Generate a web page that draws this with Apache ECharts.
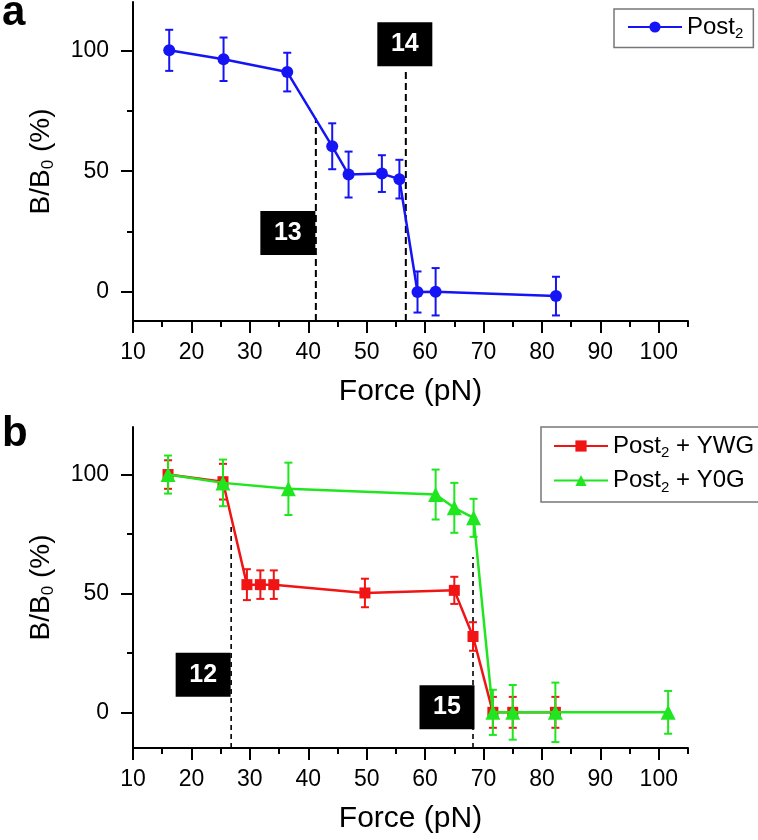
<!DOCTYPE html>
<html><head><meta charset="utf-8">
<script src="https://cdn.jsdelivr.net/npm/echarts@6/dist/echarts.min.js"></script>
<style>html,body{margin:0;padding:0;background:#fff}#c{width:758px;height:840px}</style>
</head><body><div id="c"></div>
<script>
// ---- Panel a data ----
const aForce = [16.2, 25.5, 36.4, 44.1, 46.9, 52.6, 55.6, 58.7, 61.8, 82.4];
const aRatio = [100, 96.3, 91.0, 60.3, 48.6, 49.0, 46.7, 0, 0.1, -1.7];
const aErr   = [8.5, 9, 8, 9.5, 9.5, 7.6, 8, 8.5, 9.8, 8];
// ---- Panel b data ----
const ywgForce = [16.0, 25.4, 29.5, 31.8, 34.1, 49.7, 65.0, 68.2, 71.6, 75.0, 82.3];
const ywgRatio = [100, 97, 53.7, 53.7, 53.7, 50.2, 51.3, 31.9, 0, 0, 0];
const ywgErr   = [6, 7.5, 6.5, 6, 6, 6, 5.7, 6, 6.5, 6.5, 6.5];
const y0gForce = [16.0, 25.4, 36.6, 61.8, 65.0, 68.3, 71.6, 75.0, 82.3, 101.6];
const y0gRatio = [100, 96.5, 94, 91.6, 86, 81.8, 0, 0, 0, 0];
const y0gErr   = [8, 9.8, 11, 10.5, 10.5, 8, 9.5, 11.5, 12.5, 9];
// ---- Transition markers ----
const aMarkLabels = ['13', '14'];
const aMarkForce  = [41.3, 56.7];
const aMarkTop    = [71.9, 92.4];
const bMarkLabels = ['12', '15'];
const bMarkForce  = [26.8, 68.2];
const bMarkTop    = [78.6, 65.3];
// ---- Ticks ----
const xMajorTicks = [10, 20, 30, 40, 50, 60, 70, 80, 90, 100];
const xMinorTicks = [15, 25, 35, 45, 55, 65, 75, 85, 95, 105];
const yMajorTicks = [0, 50, 100];
const yMinorTicks = [25, 75];
const seriesNames = ['Post2', 'Post2 + YWG', 'Post2 + Y0G'];

// layout/style (not data)
const annA = [{boxY: 24.4, off: -28}, {boxY: 102.5, off: -1}];
const annB = [{boxY: 15.8, off: -28}, {boxY: 2.1, off: -26}];
const FONT = 'Liberation Sans, Arial, sans-serif';
const BLUE = '#1414f5', RED = '#f01414', GREEN = '#20e620';
const TICK_FONT = {fontSize: 23, fontFamily: FONT, color: '#000'};

const zip = (a, b, c) => a.map((v, i) => c ? [v, b[i], c[i]] : [v, b[i]]);

function errRender(color) {
  return function (params, api) {
    const x = api.value(0), y = api.value(1), e = api.value(2);
    const t = api.coord([x, y + e]), b = api.coord([x, y - e]);
    const hw = 4, st = {stroke: color, lineWidth: 2};
    return {type: 'group', children: [
      {type: 'line', shape: {x1: t[0], y1: t[1], x2: b[0], y2: b[1]}, style: st},
      {type: 'line', shape: {x1: t[0] - hw, y1: t[1], x2: t[0] + hw, y2: t[1]}, style: st},
      {type: 'line', shape: {x1: b[0] - hw, y1: b[1], x2: b[0] + hw, y2: b[1]}, style: st}
    ]};
  };
}

function xAxes(gi) {
  return [
    {gridIndex: gi, type: 'value', min: 10, max: 105,
     axisLine: {onZero: false, lineStyle: {color: '#000', width: 2}},
     axisTick: {customValues: xMajorTicks, length: 12, lineStyle: {color: '#000', width: 2}},
     axisLabel: Object.assign({customValues: xMajorTicks, margin: 20,
       formatter: v => '{n|' + v + '}', rich: {n: TICK_FONT}}, TICK_FONT),
     splitLine: {show: false},
     name: 'Force (pN)', nameLocation: 'middle', nameGap: 56,
     nameTextStyle: {fontSize: 30, color: '#000', fontFamily: FONT}},
    {gridIndex: gi, type: 'value', min: 10, max: 105, position: 'bottom',
     axisLine: {show: false, onZero: false},
     axisTick: {customValues: xMinorTicks, length: 6, lineStyle: {color: '#000', width: 2}},
     axisLabel: {show: false}, splitLine: {show: false}}
  ];
}
function yAxes(gi, min) {
  return [
    {gridIndex: gi, type: 'value', min: min, max: 120,
     axisLine: {show: true, onZero: false, lineStyle: {color: '#000', width: 2}},
     axisTick: {show: true, customValues: yMajorTicks, length: 12, lineStyle: {color: '#000', width: 2}},
     axisLabel: Object.assign({customValues: yMajorTicks, margin: 24,
       formatter: v => '{n|' + v + '}', rich: {n: TICK_FONT}}, TICK_FONT),
     splitLine: {show: false},
     name: '{t|B/B}{s|0}{t| (%)}', nameLocation: 'middle', nameGap: 76,
     nameTextStyle: {color: '#000', fontFamily: FONT, rich: {
       t: {fontSize: 28, fontFamily: FONT, color: '#000'},
       s: {fontSize: 17, fontFamily: FONT, color: '#000', padding: [14, 0, 0, 0]}}}},
    {gridIndex: gi, type: 'value', min: min, max: 120, position: 'left',
     axisLine: {show: false, onZero: false},
     axisTick: {show: true, customValues: yMinorTicks, length: 6, lineStyle: {color: '#000', width: 2}},
     axisLabel: {show: false}, splitLine: {show: false}}
  ];
}

function markSeries(xi, yi, ymin, labels, xs, tops, ann, dash, width) {
  const out = [];
  labels.forEach((lab, i) => {
    out.push({type: 'line', xAxisIndex: xi, yAxisIndex: yi, silent: true, symbol: 'none',
      data: [[xs[i], ymin], [xs[i], tops[i]]],
      lineStyle: {color: '#000', type: dash, width: width}, z: 1});
    out.push({type: 'scatter', xAxisIndex: xi, yAxisIndex: yi, silent: true,
      symbol: 'rect', symbolSize: [55, 44], symbolOffset: [ann[i].off, 0],
      itemStyle: {color: '#000', opacity: 1}, z: 5,
      data: [[xs[i], ann[i].boxY]],
      label: {show: true, position: 'inside', formatter: lab, color: '#fff',
        fontSize: 25, fontWeight: 'bold', fontFamily: FONT}});
  });
  return out;
}

const legendText = {
  fontSize: 24, color: '#000', fontFamily: FONT,
  rich: {t: {fontSize: 24, fontFamily: FONT, color: '#000'},
         s: {fontSize: 15, fontFamily: FONT, color: '#000', padding: [14, 0, 0, 0]}}
};
const legendFmt = n => '{t|Post}{s|2}' + (n.length > 5 ? '{t|' + n.slice(5) + '}' : '');

const option = {
  animation: false,
  backgroundColor: '#fff',
  grid: [
    {left: 133, right: 70, top: 2, height: 319},
    {left: 133, right: 70, top: 427, height: 321}
  ],
  xAxis: [...xAxes(0), ...xAxes(1)],
  yAxis: [...yAxes(0, -12), ...yAxes(1, -15)],
  legend: [
    {data: [seriesNames[0]], left: 614, top: 9, orient: 'vertical',
     padding: [6, 10, 6, 13], itemWidth: 54, itemHeight: 14,
     borderColor: '#777', borderWidth: 1.5, formatter: legendFmt, textStyle: legendText},
    {data: [seriesNames[1], seriesNames[2]], left: 541, top: 427, orient: 'vertical',
     padding: [7, 10, 7, 12], itemWidth: 54, itemHeight: 14, itemGap: 8,
     borderColor: '#777', borderWidth: 1.5, formatter: legendFmt, textStyle: legendText}
  ],
  graphic: [
    {type: 'text', left: 2, top: -8, style: {text: 'a', fontSize: 42, fontWeight: 'bold', fontFamily: FONT, fill: '#000'}},
    {type: 'text', left: 2, top: 413, style: {text: 'b', fontSize: 42, fontWeight: 'bold', fontFamily: FONT, fill: '#000'}}
  ],
  series: [
    ...markSeries(0, 0, -12, aMarkLabels, aMarkForce, aMarkTop, annA, [7, 4], 2),
    ...markSeries(2, 2, -15, bMarkLabels, bMarkForce, bMarkTop, annB, [5, 4], 1.6),
    {name: seriesNames[0], type: 'line', xAxisIndex: 0, yAxisIndex: 0, data: zip(aForce, aRatio),
     symbol: 'circle', symbolSize: 12, color: BLUE, lineStyle: {width: 2.5}, z: 3},
    {type: 'custom', xAxisIndex: 0, yAxisIndex: 0, data: zip(aForce, aRatio, aErr),
     renderItem: errRender(BLUE), encode: {x: 0, y: 1}, z: 3, silent: true},
    {name: seriesNames[1], type: 'line', xAxisIndex: 2, yAxisIndex: 2, data: zip(ywgForce, ywgRatio),
     symbol: 'rect', symbolSize: 11, color: RED, lineStyle: {width: 2.5}, z: 3},
    {type: 'custom', xAxisIndex: 2, yAxisIndex: 2, data: zip(ywgForce, ywgRatio, ywgErr),
     renderItem: errRender(RED), encode: {x: 0, y: 1}, z: 3, silent: true},
    {name: seriesNames[2], type: 'line', xAxisIndex: 2, yAxisIndex: 2, data: zip(y0gForce, y0gRatio),
     symbol: 'triangle', symbolSize: 15, color: GREEN, lineStyle: {width: 2.5}, z: 4},
    {type: 'custom', xAxisIndex: 2, yAxisIndex: 2, data: zip(y0gForce, y0gRatio, y0gErr),
     renderItem: errRender(GREEN), encode: {x: 0, y: 1}, z: 4, silent: true}
  ]
};
const chart = echarts.init(document.getElementById('c'), null, {renderer: 'canvas'});
chart.setOption(option);
</script></body></html>
